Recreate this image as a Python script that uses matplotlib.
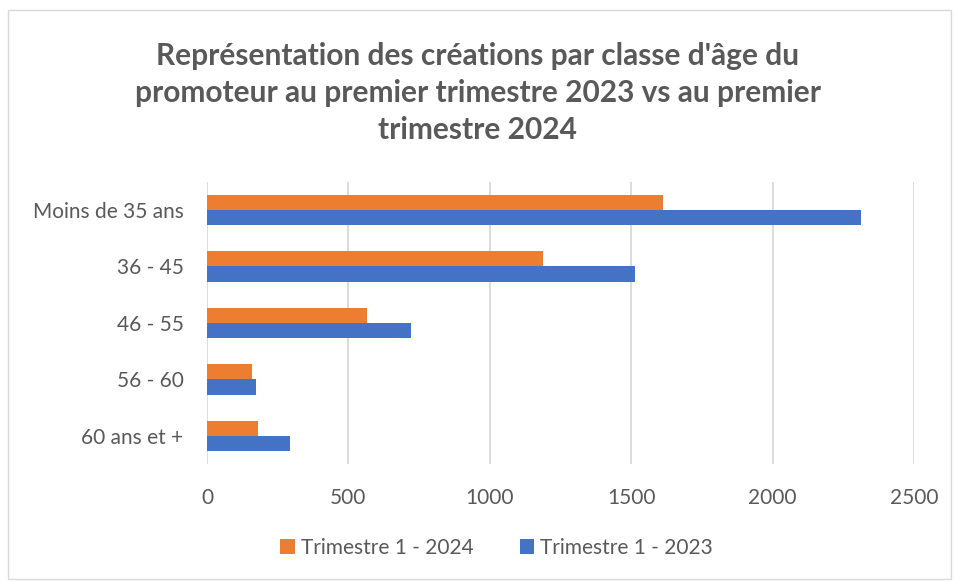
import numpy as np
import matplotlib.pyplot as plt
from matplotlib.patches import Rectangle

categories = ["Moins de 35 ans", "36 - 45", "46 - 55", "56 - 60", "60 ans et +"]
t1_2024 = [1613, 1187, 565, 158, 180]
t1_2023 = [2312, 1515, 722, 173, 292]
xticks = [0, 500, 1000, 1500, 2000, 2500]

orange = "#ED7D31"
blue = "#4472C4"
grey = "#595959"

plt.rcParams['font.family'] = ['Lato', 'DejaVu Sans']

fig = plt.figure(figsize=(9.55, 5.81), dpi=100)
ax = fig.add_axes([0.2168, 0.2014, 0.7403, 0.4856])

y = np.arange(len(categories))
h = 0.27
ax.barh(y - h / 2, t1_2024, height=h, color=orange, label="Trimestre 1 - 2024", zorder=3)
ax.barh(y + h / 2, t1_2023, height=h, color=blue, label="Trimestre 1 - 2023", zorder=3)

ax.set_ylim(len(categories) - 0.5, -0.5)
ax.set_xlim(0, 2500)
ax.set_yticks(y)
ax.set_yticklabels(categories, fontsize=15, color=grey)
ax.set_xticks(xticks)
ax.set_xticklabels([str(v) for v in xticks], fontsize=15, color=grey)
ax.tick_params(axis='y', length=0, pad=17)
ax.tick_params(axis='x', length=0, pad=17)
ax.grid(axis='x', color="#d9d9d9", linewidth=1.3, zorder=0)
for s in ax.spines.values():
    s.set_visible(False)

fig.text(0.5, 0.84, "Représentation des créations par classe d'âge du\npromoteur au premier trimestre 2023 vs au premier\ntrimestre 2024",
         ha='center', va='center', fontsize=21.5, fontweight='bold', color=grey, linespacing=1.38)

fig.legend(loc='center', bbox_to_anchor=(0.52, 0.057), ncol=2, frameon=False,
           fontsize=15, labelcolor=grey, handlelength=0.7, handleheight=0.7,
           handletextpad=0.3, columnspacing=2.2)

fig.patches.append(Rectangle((0.008, 0.003), 0.988, 0.98, transform=fig.transFigure,
                             fill=False, edgecolor="#d9d9d9", linewidth=1))

fig.savefig("out.png", dpi=100)
